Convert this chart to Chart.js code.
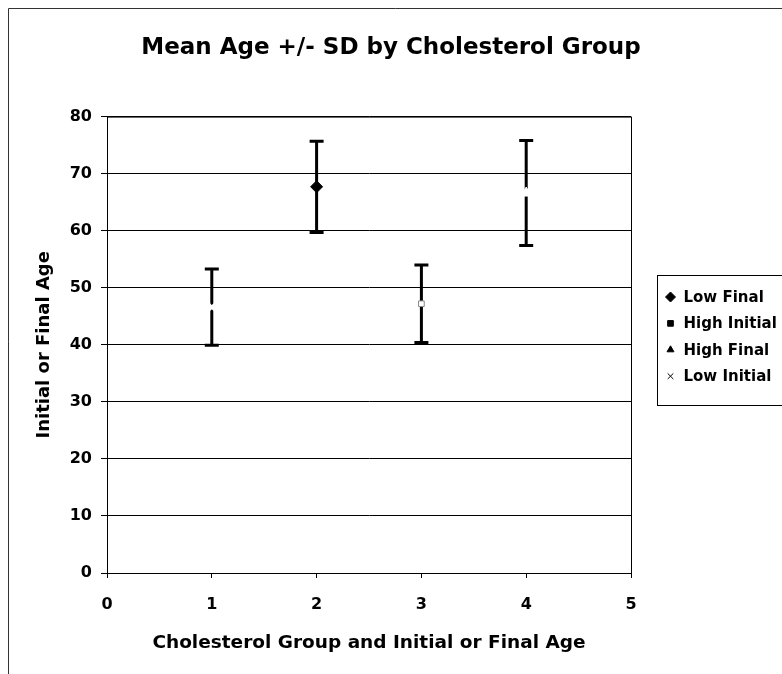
<!DOCTYPE html>
<html>
<head>
<meta charset="utf-8">
<title>Mean Age +/- SD by Cholesterol Group</title>
<script src="https://cdn.jsdelivr.net/npm/chart.js@4.4.1/dist/chart.umd.min.js"></script>
<style>
  html, body { margin: 0; padding: 0; background: #fff; }
  #wrap { width: 782px; height: 674px; position: relative; }
</style>
</head>
<body>
<div id="wrap"><canvas id="ageChart"></canvas></div>
<script>
// data
const seriesLabels = ['Low Final', 'High Initial', 'High Final', 'Low Initial'];
const seriesX = [2, 3, 4, 1];
const seriesMean = [67.7, 47.2, 66.6, 46.6];
const seriesSD = [8.0, 6.8, 9.2, 6.7];
const xTicks = [0, 1, 2, 3, 4, 5];
const yTicks = [0, 10, 20, 30, 40, 50, 60, 70, 80];

const FONT = "'DejaVu Sans', 'Liberation Sans', Arial, sans-serif";

// marker looks: only the diamond shows, the others just break the bar
const markerStyles = [
    { pointStyle: 'rectRot', radius: 6, bg: '#000', border: '#000', bw: 1 },
    { pointStyle: 'rect', radius: 4, bg: '#fff', border: '#888', bw: 1 },
    { pointStyle: 'triangle', radius: 6, bg: '#fff', border: '#fff', bw: 1 },
    { pointStyle: 'crossRot', radius: 4, bg: '#fff', border: '#fff', bw: 3 }
];
const legendStyles = [
    { pointStyle: 'rectRot', radius: 5 },
    { pointStyle: 'rect', radius: 4 },
    { pointStyle: 'triangle', radius: 4 },
    { pointStyle: 'crossRot', radius: 4 }
];

// outer frame, plot border and error bars
const errorBarPlugin = {
    id: 'errorBars',
    beforeDraw(chart) {
        const ctx = chart.ctx;
        ctx.save();
        ctx.strokeStyle = '#333';
        ctx.lineWidth = 1;
        ctx.beginPath();
        ctx.moveTo(8.5, chart.height);
        ctx.lineTo(8.5, 8.5);
        ctx.lineTo(chart.width, 8.5);
        ctx.stroke();
        ctx.restore();
    },
    beforeDatasetsDraw(chart) {
        const ctx = chart.ctx;
        const xs = chart.scales.x;
        const ys = chart.scales.y;
        const area = chart.chartArea;
        ctx.save();
        ctx.strokeStyle = '#000';
        ctx.lineWidth = 1;
        ctx.strokeRect(area.left + 0.5, area.top + 0.5, area.right - area.left, area.bottom - area.top);

        ctx.lineWidth = 3;
        ctx.lineCap = 'butt';
        seriesX.forEach((gx, i) => {
            const px = xs.getPixelForValue(gx);
            const top = ys.getPixelForValue(seriesMean[i] + seriesSD[i]);
            const bot = ys.getPixelForValue(seriesMean[i] - seriesSD[i]);
            ctx.beginPath();
            ctx.moveTo(px, top);
            ctx.lineTo(px, bot);
            ctx.moveTo(px - 7, top);
            ctx.lineTo(px + 7, top);
            ctx.moveTo(px - 7, bot);
            ctx.lineTo(px + 7, bot);
            ctx.stroke();
        });
        ctx.restore();
    },
    afterDraw(chart) {
        // legend box, partly outside the canvas like the original
        const ctx = chart.ctx;
        const left = 657.5, top = 275.5, rowH = 26.4;
        ctx.save();
        ctx.strokeStyle = '#000';
        ctx.lineWidth = 1;
        ctx.strokeRect(left, top, 200, 130);
        ctx.font = 'bold 15px ' + FONT;
        ctx.textBaseline = 'middle';
        ctx.textAlign = 'left';
        seriesLabels.forEach((lab, i) => {
            const y = top + 21.5 + i * rowH;
            const st = legendStyles[i];
            ctx.fillStyle = '#000';
            ctx.strokeStyle = '#000';
            ctx.lineWidth = 1;
            Chart.helpers.drawPoint(ctx, {
                pointStyle: st.pointStyle, radius: st.radius, rotation: 0, borderWidth: 1
            }, left + 13, y);
            ctx.fillStyle = '#000';
            ctx.fillText(lab, left + 26, y + 1);
        });
        ctx.restore();
    }
};

const datasets = seriesLabels.map((lab, i) => ({
    label: lab,
    data: [{ x: seriesX[i], y: seriesMean[i] }],
    pointStyle: markerStyles[i].pointStyle,
    pointRadius: markerStyles[i].radius,
    pointBackgroundColor: markerStyles[i].bg,
    pointBorderColor: markerStyles[i].border,
    pointBorderWidth: markerStyles[i].bw,
    showLine: false
}));

new Chart(document.getElementById('ageChart'), {
    type: 'scatter',
    data: { datasets: datasets },
    options: {
        responsive: true,
        maintainAspectRatio: false,
        animation: false,
        layout: { padding: { left: 0, right: 0, top: 0, bottom: 12 } },
        plugins: {
            legend: { display: false },
            tooltip: { enabled: false },
            title: {
                display: true,
                text: 'Mean Age +/- SD by Cholesterol Group',
                color: '#000',
                font: { family: FONT, size: 23, weight: 'bold' },
                padding: { top: 34, bottom: 55 }
            }
        },
        scales: {
            x: {
                type: 'linear',
                min: 0,
                max: 5,
                afterBuildTicks: s => { s.ticks = xTicks.map(v => ({ value: v })); },
                afterFit: s => { s.height = 89; },
                ticks: { color: '#000', padding: 17, font: { family: FONT, size: 16, weight: 'bold' } },
                grid: { display: true, drawOnChartArea: false, tickLength: 5, color: '#000' },
                border: { display: true, color: '#000' },
                title: {
                    display: true,
                    text: 'Cholesterol Group and Initial or Final Age',
                    color: '#000',
                    font: { family: FONT, size: 18.5, weight: 'bold' },
                    padding: { top: 0, bottom: 8 }
                }
            },
            y: {
                type: 'linear',
                min: 0,
                max: 80,
                afterBuildTicks: s => { s.ticks = yTicks.map(v => ({ value: v })); },
                afterFit: s => { s.width = 107; },
                ticks: { color: '#000', padding: 9, font: { family: FONT, size: 16, weight: 'bold' } },
                grid: { color: '#000', lineWidth: 1, tickLength: 6 },
                border: { display: true, color: '#000' },
                title: {
                    display: true,
                    text: 'Initial or Final Age',
                    color: '#000',
                    font: { family: FONT, size: 18, weight: 'bold' },
                    padding: { top: 34, bottom: 0 }
                }
            },
            // empty right-hand axis that only reserves room for the legend
            spacer: {
                type: 'linear',
                position: 'right',
                display: true,
                afterFit: s => { s.width = 151; },
                ticks: { display: false },
                grid: { display: false, drawTicks: false },
                border: { display: false }
            }
        }
    },
    plugins: [errorBarPlugin]
});
</script>
</body>
</html>
